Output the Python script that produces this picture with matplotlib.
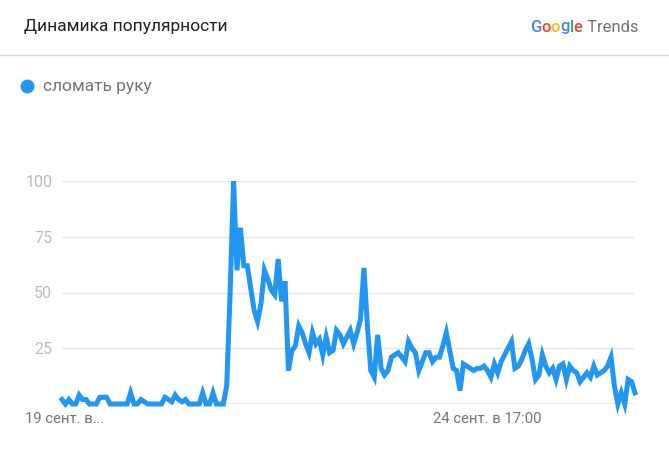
import matplotlib
matplotlib.use("Agg")
import matplotlib.pyplot as plt

plt.rcParams['font.family'] = ['Roboto', 'DejaVu Sans']

# данные: почасовые значения, 19 сент. 13:00 ... 26 сент. 12:00
values = [2, 0, 2, 0, 0, 4, 2, 2, 0, 0,
          0, 3, 3, 3, 0, 0, 0, 0, 0, 0,
          5, 0, 0, 2, 1, 0, 0, 0, 0, 0,
          3, 2, 1, 4, 2, 1, 2, 0, 0, 0,
          0, 5, 0, 0, 5, 0, 0, 0, 8, 50,
          100, 60, 79, 62, 62, 52, 42, 37, 45, 60,
          56, 51, 49, 65, 46, 55, 15, 24, 26, 35,
          32, 27, 23, 32, 27, 29, 22, 30, 23, 24,
          33, 31, 27, 30, 33, 27, 32, 38, 61, 35,
          15, 12, 31, 16, 13, 15, 21, 22, 23, 21,
          19, 28, 25, 23, 15, 19, 23, 23, 19, 21,
          21, 26, 32, 24, 16, 15, 6, 18, 17, 16,
          15, 16, 16, 17, 15, 12, 18, 14, 19, 22,
          25, 28, 16, 17, 20, 24, 27, 20, 11, 13,
          22, 17, 14, 16, 11, 17, 18, 11, 17, 15,
          14, 10, 12, 14, 12, 17, 13, 14, 15, 17,
          21, 8, 0, 5, 0, 11, 10, 5]
y_ticks = [25, 50, 75, 100]
x_tick_pos = [0, 124]
x_tick_labels = ["19 сент. в...", "24 сент. в 17:00"]
series_name = "сломать руку"

blue = "#2196F3"
grey = "#757575"

fig = plt.figure(figsize=(6.69, 4.65), dpi=100)
ax = fig.add_axes([62 / 669, 1 - 404 / 465, (635 - 62) / 669, (404 - 181) / 465])

x = list(range(len(values)))
ax.plot(x, values, color=blue, linewidth=3.6, solid_joinstyle='miter', clip_on=False, zorder=3)

ax.set_xlim(0, len(values) - 1)
ax.set_ylim(0, 100)
for t in y_ticks:
    ax.axhline(t, color="#e6e6e6", linewidth=1, zorder=1)
ax.axhline(0, color="#9e9e9e", linewidth=1, zorder=2)
for s in ax.spines.values():
    s.set_visible(False)

ax.set_yticks(y_ticks)
ax.set_yticklabels([str(t) for t in y_ticks], color="#bdbdbd", fontsize=11.5)
ax.tick_params(axis='y', length=0, pad=7)
ax.set_xticks(x_tick_pos)
ax.set_xticklabels(x_tick_labels, color=grey, fontsize=10.7)
ax.tick_params(axis='x', length=0, pad=6)
lbl0 = ax.get_xticklabels()[0]
lbl0.set_horizontalalignment('left')
lbl0.set_transform(lbl0.get_transform() + matplotlib.transforms.ScaledTranslation(-37 / 100, 0, fig.dpi_scale_trans))

# заголовок и разделитель
fig.text(24 / 669, 1 - 27 / 465, "Динамика популярности", fontsize=12.5, color="#212121", va='center')
fig.add_artist(plt.Line2D([0, 1], [1 - 55 / 465, 1 - 55 / 465], color="#e0e0e0", linewidth=1))

# логотип Google Trends
fig.canvas.draw()
r = fig.canvas.get_renderer()
px = 530
parts = [("G", "#4285F4"), ("o", "#EA4335"), ("o", "#FBBC05"), ("g", "#4285F4"),
         ("l", "#34A853"), ("e", "#EA4335"), (" Trends", grey)]
for ch, c in parts:
    t = fig.text(px / 669, 1 - 27 / 465, ch, fontsize=12, color=c, va='center',
                 fontweight='medium' if c != grey else 'normal')
    px += t.get_window_extent(r).width

# легенда
fig.add_artist(plt.Line2D([27 / 669], [1 - 86 / 465], marker='o', markersize=9,
                          color=blue, linestyle='none'))
fig.text(43 / 669, 1 - 87 / 465, series_name, fontsize=12.5, color=grey, va='center')

fig.savefig("out.png", dpi=100, facecolor="white")
